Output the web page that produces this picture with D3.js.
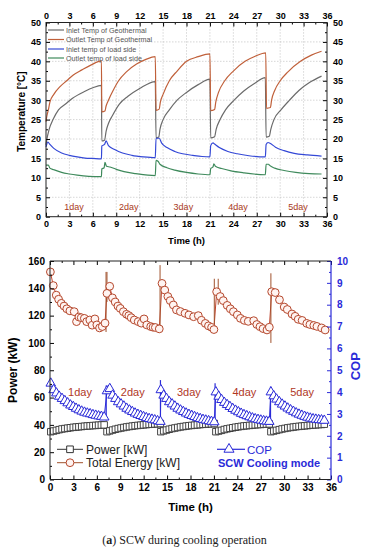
<!DOCTYPE html>
<html><head><meta charset="utf-8">
<script src="https://cdn.jsdelivr.net/npm/d3@7"></script>
<style>body{margin:0;background:#fff}svg{display:block}text{font-family:"Liberation Sans",Arial,sans-serif}</style>
</head><body><svg id="c" width="369" height="550"></svg>
<script>
// ---------- data ----------
const hourTicks=[0,3,6,9,12,15,18,21,24,27,30,33,36];
const hourMinor=[1.5,4.5,7.5,10.5,13.5,16.5,19.5,22.5,25.5,28.5,31.5,34.5];
const tempTicks=[0,5,10,15,20,25,30,35,40,45,50];
const tempMinor=[2.5,7.5,12.5,17.5,22.5,27.5,32.5,37.5,42.5,47.5];
const powerTicks=[0,20,40,60,80,100,120,140,160];
const powerMinor=[10,30,50,70,90,110,130,150];
const copTicks=[0,1,2,3,4,5,6,7,8,9,10];
const copMinor=[0.5,1.5,2.5,3.5,4.5,5.5,6.5,7.5,8.5,9.5];
const dayLabels=["1day","2day","3day","4day","5day"];
const tempLegend=["Inlet Temp of Geothermal","Outlet Temp of Geothermal","Inlet temp of load side","Outlet temp of load side"];

const geoInlet=[[0,18.5],[0.1,19.8],[0.4,22.5],[0.9,25],[1.6,27.5],[2.5,29],[3.4,30.5],[5,32.3],[6,33.2],[7.1,33.8],
 [7.15,19.5],[7.5,19.7],[7.7,22],[8.0,24],[8.5,26],[9.4,29],[10.5,31],[12,33],[14.0,34.8],
 [14.1,20.3],[14.45,20.5],[14.6,22.5],[15,25],[15.8,27.5],[16.8,30],[18,32],[19.5,34],[21.0,35.4],
 [21.1,20.3],[21.6,20.6],[21.8,22.5],[22.3,25],[23,27.5],[24.1,30],[25.3,32.3],[26.7,34.3],[28.1,35.8],
 [28.2,20.5],[28.6,20.7],[28.8,22.5],[29.2,25],[30.1,27.5],[31.2,30],[32.4,32.5],[33.8,34.6],[35.3,36.2]];
const geoOutlet=[[0,24.5],[0.1,25.8],[0.3,27.5],[0.5,29.5],[1,31.5],[1.8,33.5],[2.65,35],[3.5,36.5],[4.6,37.8],[5.8,39.1],[7.1,40.1],
 [7.15,27],[7.55,27.2],[7.7,28.5],[8,30],[8.6,32.5],[9.3,35],[10.3,37.3],[11.6,39.3],[12.8,40.5],[14.0,41.2],
 [14.1,27.4],[14.5,27.7],[14.65,29.5],[15,31.5],[15.8,35],[16.8,37.5],[18,40],[19.5,41.2],[21.0,41.9],
 [21.1,27.3],[21.6,27.6],[21.75,29.5],[22.1,32],[22.9,35],[24,37.5],[25.5,40],[26.8,41.3],[28.15,42.2],
 [28.25,27.9],[28.75,28.1],[28.9,30],[29.3,32.5],[30,35],[31,37.3],[32.6,40],[34,41.6],[35.3,42.6]];
const loadInlet=[[0,18],[0.25,19.2],[0.5,18.6],[1,17.6],[2,16.4],[3,15.8],[4,15.4],[5,15.1],[6,15.0],[7.1,14.9],
 [7.15,18.2],[7.5,18.6],[7.7,19.5],[8,18.3],[8.8,17.3],[9.8,16.4],[11,15.8],[12.5,15.4],[14.0,15.2],
 [14.1,20.2],[14.5,20.2],[14.8,19],[15.5,17.8],[16.5,16.8],[17.5,16.2],[18.8,15.8],[20,15.5],[21.0,15.4],
 [21.1,18.3],[21.4,19.0],[21.6,18.7],[22.2,17.8],[23.3,16.8],[24.5,16.2],[26,15.7],[28.1,15.4],
 [28.2,18.6],[28.45,19.1],[28.7,18.9],[29.4,17.9],[30.5,17],[31.8,16.3],[33.5,15.9],[35.3,15.6]];
const loadOutlet=[[0,13.3],[0.3,13.3],[0.5,12.5],[1,12.1],[2,11.4],[3,11],[4,10.7],[5.5,10.4],[7.1,10.3],
 [7.15,12.3],[7.45,12.6],[7.55,14],[7.75,13],[8.2,12.8],[9,12.2],[10,11.6],[11.5,11.1],[14.0,10.6],
 [14.1,14.5],[14.35,14.3],[14.6,13.5],[15.5,12.6],[16.5,12],[18,11.4],[19.5,11],[21.0,10.8],
 [21.1,12.4],[21.4,12.8],[21.5,13.6],[21.7,13],[22.5,12.4],[23.7,11.8],[25.3,11.3],[28.1,10.8],
 [28.2,13.5],[28.5,13.5],[28.65,13.2],[29.3,12.5],[30.5,11.9],[32,11.4],[33.7,11.1],[35.3,11.0]];

const dayStarts=[0.1,7.3,14.2,21.25,28.3];
const markerOffsets=[0,0.36,0.72,1.08,1.44,1.8,2.16,2.52,2.88,3.24,3.6,3.96,4.32,4.68,5.04,5.4,5.76,6.12,6.48,6.84];
const powerDays=[
 [35,35.5,36,36.5,37,37.3,37.6,37.9,38.2,38.4,38.6,38.8,39,39.2,39.3,39.5,39.6,39.8,39.9,40],
 [35,35.6,36.2,36.8,37.3,37.7,38.1,38.5,38.8,39.1,39.4,39.6,39.8,40,40.2,40.4,40.5,40.7,40.8,41],
 [35,35.6,36.2,36.8,37.3,37.7,38.1,38.5,38.8,39.1,39.4,39.6,39.8,40,40.2,40.4,40.5,40.7,40.8,41],
 [35,35.5,36,36.6,37.1,37.5,37.9,38.3,38.6,38.9,39.2,39.4,39.6,39.8,40,40.2,40.3,40.5,40.6,40.7],
 [35,35.5,36,36.5,37,37.4,37.8,38.1,38.4,38.7,38.9,39.1,39.3,39.5,39.7,39.9,40,40.2,40.3,40.5]];
const copDays=[
 [4.4,4.1,3.95,3.8,3.7,3.6,3.5,3.4,3.33,3.25,3.18,3.12,3.07,3.03,3.0,2.96,2.93,2.9,2.88,2.85],
 [4.05,4.15,3.85,3.7,3.55,3.45,3.35,3.25,3.17,3.1,3.03,2.97,2.92,2.87,2.82,2.78,2.75,2.72,2.68,2.65],
 [4.1,3.85,3.7,3.55,3.45,3.35,3.25,3.17,3.1,3.03,2.97,2.92,2.87,2.82,2.78,2.74,2.71,2.68,2.65,2.63],
 [4.0,3.8,3.65,3.52,3.42,3.33,3.24,3.16,3.09,3.02,2.96,2.91,2.86,2.81,2.77,2.74,2.71,2.68,2.66,2.65],
 [4.0,3.82,3.67,3.55,3.44,3.35,3.26,3.18,3.11,3.04,2.98,2.93,2.88,2.84,2.8,2.77,2.75,2.73,2.72,2.7]];
const copSpikes=[[7.2,2.7,4.3],[14.15,2.6,4.55],[21.15,2.6,4.4],[28.25,2.7,4.25]];
const energy=[[0.05,152],[0.42,142],[0.8,135],[1.1,132],[1.45,129],[1.8,127],[2.15,125],[2.55,123.5],[3.1,122.9],[3.4,115.6],[3.7,119],[4.0,118.5],[4.4,118],[4.7,115.6],[5.1,116.8],[5.4,113],[5.75,117.6],[6.0,113.2],[6.35,111],[6.7,112],[7.05,114.5],
 [7.3,136.3],[7.65,141.5],[8.0,133],[8.35,130],[8.7,127],[9.0,125.3],[9.4,122.9],[9.8,121],[10.1,120],[10.4,118.5],[10.8,116.8],[11.3,115.6],[11.7,114.5],[12.05,117.6],[12.4,113.2],[12.9,112],[13.2,111.5],[13.5,111.3],[14.0,110.3],
 [14.35,143.6],[14.7,138.7],[15.1,134],[15.4,131],[15.8,127.8],[16.2,124.2],[16.7,123],[17.3,121.7],[17.8,120.5],[18.4,119.2],[19.0,120],[19.4,116.6],[19.9,114.3],[20.3,112.5],[20.7,111.4],[21.0,109.8],
 [21.35,137.5],[21.8,134],[22.2,131],[22.7,127.5],[23.1,125],[23.5,122.9],[24.0,120.5],[24.4,118],[24.9,116.5],[25.4,115.8],[26.1,116.3],[26.5,113.5],[26.9,111.9],[27.3,110.5],[27.8,109.5],[28.1,111.5],
 [28.4,137.5],[28.85,136.9],[29.4,131.6],[30.0,126.3],[30.4,124.5],[31.0,121.2],[31.4,119.5],[31.8,117.3],[32.3,116.5],[32.9,114.3],[33.3,113.5],[33.8,112.8],[34.2,112.1],[34.8,111],[35.25,109.5]];
const energySpikes=[[7.18,108,152],[7.3,130,152],[14.1,108,157],[21.05,108,147],[21.55,128,147],[28.3,100,151]];

// ---------- drawing ----------
const svg=d3.select("#c");
const F="Liberation Sans, Arial, sans-serif";

function ax(g,axis,vals,size,fmt,pad){
  const a=axis.tickValues(vals).tickSizeInner(size).tickSizeOuter(0).tickPadding(pad||3);
  if(fmt===null) a.tickFormat("");
  g.call(a);
  g.select(".domain").remove();
  return g;
}

// ===== top chart =====
const x1=d3.scaleLinear().domain([0,36]).range([46,327]);
const y1=d3.scaleLinear().domain([0,50]).range([216.7,22.5]);
const topG=svg.append("g");
topG.append("g").selectAll("line").data(hourTicks.slice(1,-1)).join("line")
 .attr("x1",d=>x1(d)).attr("x2",d=>x1(d)).attr("y1",y1(0)).attr("y2",y1(50))
 .attr("stroke","#bbb").attr("stroke-width",0.6).attr("stroke-dasharray","1.5,1.5");
topG.append("g").selectAll("line").data(tempTicks.slice(1,-1)).join("line")
 .attr("y1",d=>y1(d)).attr("y2",d=>y1(d)).attr("x1",x1(0)).attr("x2",x1(36))
 .attr("stroke","#bbb").attr("stroke-width",0.6).attr("stroke-dasharray","1.5,1.5");
const ln1=d3.line().x(d=>x1(d[0])).y(d=>y1(d[1])).curve(d3.curveMonotoneX);
const tempSeries=[[geoInlet,"#6b6b6b"],[geoOutlet,"#c0603a"],[loadInlet,"#3448d6"],[loadOutlet,"#3f8a5c"]];
tempSeries.forEach(([d,c])=>topG.append("path").datum(d).attr("d",ln1).attr("fill","none").attr("stroke",c).attr("stroke-width",1.2));
const tf="bold 9px "+F;
ax(topG.append("g").attr("transform",`translate(0,${y1(0)})`),d3.axisBottom(x1),hourTicks,-4,undefined,4).selectAll("text").style("font",tf);
ax(topG.append("g").attr("transform",`translate(0,${y1(0)})`),d3.axisBottom(x1),hourMinor,-2,null);
ax(topG.append("g").attr("transform",`translate(0,${y1(50)})`),d3.axisTop(x1),hourTicks,-4,undefined,4).selectAll("text").style("font",tf);
ax(topG.append("g").attr("transform",`translate(0,${y1(50)})`),d3.axisTop(x1),hourMinor,-2,null);
ax(topG.append("g").attr("transform",`translate(${x1(0)},0)`),d3.axisLeft(y1),tempTicks,-4,undefined,5).selectAll("text").style("font",tf);
ax(topG.append("g").attr("transform",`translate(${x1(0)},0)`),d3.axisLeft(y1),tempMinor,-2,null);
ax(topG.append("g").attr("transform",`translate(${x1(36)},0)`),d3.axisRight(y1),tempTicks,-4,undefined,6).selectAll("text").style("font",tf);
ax(topG.append("g").attr("transform",`translate(${x1(36)},0)`),d3.axisRight(y1),tempMinor,-2,null);
topG.append("rect").attr("x",x1(0)).attr("y",y1(50)).attr("width",x1(36)-x1(0)).attr("height",y1(0)-y1(50))
 .attr("fill","none").attr("stroke","#222").attr("stroke-width",1);
const legY=[30,39.5,49,58];
tempLegend.forEach((t,i)=>{
  topG.append("line").attr("x1",48).attr("x2",64).attr("y1",legY[i]).attr("y2",legY[i]).attr("stroke",tempSeries[i][1]).attr("stroke-width",1.2);
  topG.append("text").attr("x",66).attr("y",legY[i]+2.5).text(t).style("font","7.2px "+F).attr("fill","#555");
});
const dayTopH=[3.6,10.6,17.6,24.6,32.3];
dayLabels.forEach((t,i)=>topG.append("text").attr("x",x1(dayTopH[i])).attr("y",y1(1.7)).attr("text-anchor","middle")
 .text(t).style("font","9px "+F).attr("fill","#a83a22"));
topG.append("text").attr("x",(x1(0)+x1(36))/2).attr("y",244).attr("text-anchor","middle").text("Time (h)").style("font","bold 9.5px "+F);
topG.append("text").attr("transform",`translate(25,${(y1(0)+y1(50))/2-8}) rotate(-90)`).attr("text-anchor","middle")
 .text("Temperature [°C]").style("font","bold 10px "+F);

// ===== bottom chart =====
const x2=d3.scaleLinear().domain([0,36]).range([50,331]);
const yP=d3.scaleLinear().domain([0,160]).range([479.5,261]);
const yC=d3.scaleLinear().domain([0,10]).range([479.5,261]);
const bot=svg.append("g");
const bf="bold 10px "+F;
const blue="#2a2ad8";
const lnE=d3.line().x(d=>x2(d[0])).y(d=>yP(d[1]));
bot.append("path").datum(energy).attr("d",lnE).attr("fill","none").attr("stroke","#c0452e").attr("stroke-width",1);
bot.append("g").selectAll("line").data(energySpikes).join("line")
 .attr("x1",d=>x2(d[0])).attr("x2",d=>x2(d[0])).attr("y1",d=>yP(d[1])).attr("y2",d=>yP(d[2]))
 .attr("stroke","#a0522d").attr("stroke-width",1);
bot.append("g").selectAll("circle").data(energy).join("circle")
 .attr("cx",d=>x2(d[0])).attr("cy",d=>yP(d[1])).attr("r",3.9)
 .attr("fill","#fff4f1").attr("stroke","#b5472c").attr("stroke-width",1);
const powerPts=[];powerDays.forEach((vals,i)=>vals.forEach((v,j)=>powerPts.push([dayStarts[i]+markerOffsets[j],v])));
const copPts=[];copDays.forEach((vals,i)=>vals.forEach((v,j)=>copPts.push([dayStarts[i]+markerOffsets[j],v])));
bot.append("path").datum(powerPts).attr("d",d3.line().x(d=>x2(d[0])).y(d=>yP(d[1]))).attr("fill","none").attr("stroke","#333").attr("stroke-width",0.8);
bot.append("g").selectAll("path").data(powerPts).join("path")
 .attr("transform",d=>`translate(${x2(d[0])},${yP(d[1])})`).attr("d",d3.symbol(d3.symbolSquare,42))
 .attr("fill","#fff").attr("stroke","#333").attr("stroke-width",0.9);
bot.append("path").datum(copPts).attr("d",d3.line().x(d=>x2(d[0])).y(d=>yC(d[1]))).attr("fill","none").attr("stroke",blue).attr("stroke-width",1);
bot.append("g").selectAll("line").data(copSpikes).join("line")
 .attr("x1",d=>x2(d[0])).attr("x2",d=>x2(d[0])).attr("y1",d=>yC(d[1])).attr("y2",d=>yC(d[2]))
 .attr("stroke",blue).attr("stroke-width",1.2);
bot.append("g").selectAll("path").data(copPts).join("path")
 .attr("transform",d=>`translate(${x2(d[0])},${yC(d[1])})`).attr("d",d3.symbol(d3.symbolTriangle,40))
 .attr("fill","#fff").attr("stroke",blue).attr("stroke-width",1);
ax(bot.append("g").attr("transform",`translate(0,${yP(0)})`),d3.axisBottom(x2),hourTicks,-4,undefined,4).selectAll("text").style("font",bf);
ax(bot.append("g").attr("transform",`translate(0,${yP(0)})`),d3.axisBottom(x2),hourMinor,-2,null);
ax(bot.append("g").attr("transform",`translate(0,${yP(160)})`),d3.axisTop(x2),hourTicks,-4,null);
ax(bot.append("g").attr("transform",`translate(0,${yP(160)})`),d3.axisTop(x2),hourMinor,-2,null);
ax(bot.append("g").attr("transform",`translate(${x2(0)},0)`),d3.axisLeft(yP),powerTicks,-4,undefined,5).selectAll("text").style("font",bf);
ax(bot.append("g").attr("transform",`translate(${x2(0)},0)`),d3.axisLeft(yP),powerMinor,-2,null);
const rc=bot.append("g").attr("transform",`translate(${x2(36)},0)`);
ax(rc,d3.axisRight(yC),copTicks,-4,undefined,6);
rc.selectAll("text").style("font",bf).attr("fill",blue);
rc.selectAll("line").attr("stroke",blue);
ax(bot.append("g").attr("transform",`translate(${x2(36)},0)`),d3.axisRight(yC),copMinor,-2,null).selectAll("line").attr("stroke",blue);
bot.append("path").attr("d",`M${x2(36)},${yP(160)}H${x2(0)}V${yP(0)}H${x2(36)}`).attr("fill","none").attr("stroke","#222").attr("stroke-width",1);
bot.append("line").attr("x1",x2(36)).attr("x2",x2(36)).attr("y1",yP(160)).attr("y2",yP(0)).attr("stroke",blue).attr("stroke-width",1.2);
const dayBotH=[3.85,10.6,17.8,24.9,32.3];
dayLabels.forEach((t,i)=>bot.append("text").attr("x",x2(dayBotH[i])).attr("y",yP(61)).attr("text-anchor","middle")
 .text(t).style("font","11px "+F).attr("fill","#b0381f"));
bot.append("line").attr("x1",57).attr("x2",83).attr("y1",449.3).attr("y2",449.3).attr("stroke","#333");
bot.append("path").attr("transform","translate(70,449.3)").attr("d",d3.symbol(d3.symbolSquare,44)).attr("fill","#fff").attr("stroke","#333");
bot.append("text").attr("x",86).attr("y",453.6).text("Power [kW]").style("font","12px "+F).attr("fill","#222");
bot.append("line").attr("x1",57).attr("x2",83).attr("y1",462.7).attr("y2",462.7).attr("stroke","#a0522d");
bot.append("circle").attr("cx",70).attr("cy",462.7).attr("r",3.9).attr("fill","#fff4f1").attr("stroke","#b5472c");
bot.append("text").attr("x",86).attr("y",467).text("Total Energy [kW]").style("font","12px "+F).attr("fill","#222");
bot.append("line").attr("x1",217).attr("x2",245).attr("y1",449.3).attr("y2",449.3).attr("stroke",blue).attr("stroke-width",1.2);
bot.append("path").attr("transform","translate(229,449.3)").attr("d",d3.symbol(d3.symbolTriangle,44)).attr("fill","#fff").attr("stroke",blue);
bot.append("text").attr("x",247).attr("y",453.5).text("COP").style("font","11.5px "+F).attr("fill",blue);
bot.append("text").attr("x",218).attr("y",467).text("SCW Cooling mode").style("font","bold 11px "+F).attr("fill",blue);
bot.append("text").attr("x",(x2(0)+x2(36))/2).attr("y",511).attr("text-anchor","middle").text("Time (h)").style("font","bold 11.5px "+F);
bot.append("text").attr("transform",`translate(17,${(yP(0)+yP(160))/2}) rotate(-90)`).attr("text-anchor","middle")
 .text("Power (kW)").style("font","bold 12px "+F);
bot.append("text").attr("transform",`translate(360,${(yP(0)+yP(160))/2-4}) rotate(-90)`).attr("text-anchor","middle")
 .text("COP").style("font","bold 13px "+F).attr("fill",blue);
const cap=svg.append("text").attr("x",184.5).attr("y",544).attr("text-anchor","middle").style("font","12px 'Liberation Serif', 'Times New Roman', serif").attr("fill","#222");
cap.append("tspan").text("(");
cap.append("tspan").text("a").style("font-weight","bold");
cap.append("tspan").text(") SCW during cooling operation");
</script></body></html>
